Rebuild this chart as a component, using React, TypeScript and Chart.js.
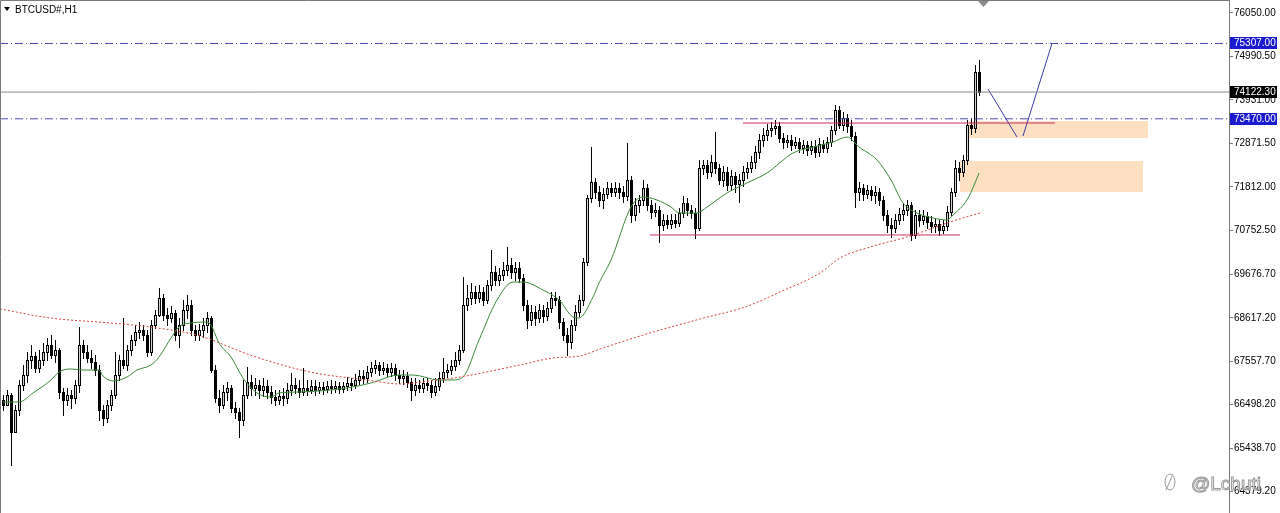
import React, { useEffect, useRef } from "react";
import { Chart, registerables } from "chart.js";
Chart.register(...registerables);

const SYMBOL = "BTCUSD#,H1";
const WATERMARK = "@Lchuti";

const priceTicks = [64379.2, 65438.7, 66498.2, 67557.7, 68617.2, 69676.7, 70752.5, 71812.0, 72871.5, 73931.0, 74990.5, 76050.0];

const opens = [66613,66491,66735,65833,66369,66979,67222,67588,67686,67393,67588,67783,67954,67710,67832,66808,66613,66735,66662,66979,67954,67783,67637,67539,67344,66369,66174,66491,66735,67222,67588,67466,67832,68076,68271,68320,68198,67783,68442,68686,69100,68686,68613,68735,68198,68442,68808,68930,68320,68198,68320,68442,68613,67344,66662,66491,66808,66906,66418,66320,66125,66735,67052,66906,66979,66857,66955,66808,66686,66613,66711,66662,66857,66979,66906,66808,66906,66857,66955,66857,66930,66882,66955,66906,66955,66882,66955,67028,66979,67101,67198,67149,67295,67393,67466,67344,67393,67295,67393,67222,67149,67198,67052,66857,66979,66906,67028,66979,66808,66955,67149,67295,67344,67442,67588,67832,68930,69100,69246,69100,69246,69052,69417,69734,69539,69661,69783,69905,69734,69832,69588,68930,68564,68759,68613,68808,68662,68857,69100,69052,68515,68198,68027,68442,68759,69052,69978,71539,71929,71685,71490,71636,71783,71685,71783,71685,71588,71978,71124,71368,71490,71783,71368,71197,71246,70880,71002,70904,71002,70929,71173,71417,71246,71173,70807,72270,72343,72173,72416,72270,71978,72173,71856,72076,71880,71978,72173,72270,72416,72660,72953,73075,73197,73246,73295,73002,72904,72953,72831,72904,72758,72831,72709,72807,72660,72855,72758,72904,73197,73685,73319,73490,73295,73051,71685,71783,71636,71734,71612,71685,71490,71124,70880,70807,71002,71148,71246,71368,70637,71124,71002,71100,70953,70856,70904,70759,70856,71197,71685,72270,72173,72465,73319,73246,74611];

const highs = [66735,66857,66784,66491,67101,67466,67783,67954,67783,67832,68003,68125,68198,68076,67881,66906,66906,66857,67101,68393,68076,67954,67832,67710,67466,66491,66613,66857,67783,67710,68613,67954,68198,68442,68515,68442,68320,68564,68808,69344,69197,68857,68906,68808,68613,69052,69173,69052,68442,68466,68613,68759,68662,67466,66857,66979,67052,66979,66564,66418,67101,67417,67222,67149,67101,67149,67101,66955,66857,66857,66906,67028,67271,67149,67101,67393,67101,67101,67101,67052,67052,67077,67101,67077,67052,67052,67173,67149,67246,67344,67344,67442,67539,67588,67539,67539,67490,67515,67490,67344,67344,67295,67149,67149,67101,67149,67149,67101,67149,67295,67637,67490,67588,67783,67954,69612,69417,69466,69393,69417,69368,69539,70271,69881,69832,69978,70344,70076,69978,69978,69685,69052,68930,68906,68954,68930,69003,69246,69246,69149,68613,68369,68564,68930,69173,70076,71612,72782,72027,71832,71783,71929,71905,71929,71905,71832,72880,72076,71539,71612,71978,71880,71490,71417,71344,71148,71124,71148,71148,71295,71588,71539,71368,71295,72465,72465,72465,72587,73148,72367,72319,72294,72222,72173,72124,72319,72416,72563,72807,73099,73246,73343,73392,73441,73392,73124,73075,73075,73026,73002,72953,72929,72929,72953,73002,72953,73026,73295,73807,73783,73636,73587,73441,73148,71929,71880,71856,71832,71832,71783,71588,71246,71051,71148,71295,71392,71490,71441,71246,71246,71246,71197,71100,71051,71002,71002,71344,71783,72465,72416,72587,73441,73490,74782,74904];

const lows = [66369,66613,65028,65833,66247,66857,67052,67393,67295,67295,67466,67588,67637,67539,66662,66247,66491,66418,66540,66808,67637,67539,67393,67222,66125,66003,66076,66369,66662,67101,67393,67344,67710,67954,68125,68076,67686,67710,68369,68662,68564,68442,68515,68076,67905,68320,68613,68198,68076,68076,68149,68271,67295,66564,66320,66418,66613,66320,66174,65711,66003,66662,66735,66735,66662,66711,66662,66540,66491,66515,66491,66540,66735,66784,66686,66735,66735,66784,66735,66784,66759,66808,66784,66808,66784,66808,66857,66857,66906,67003,67028,67052,67198,67271,67222,67246,67198,67198,67101,67028,67003,66930,66613,66735,66808,66808,66857,66686,66735,66857,67052,67173,67246,67344,67490,67783,68808,68954,68979,69003,68930,68979,69295,69417,69417,69539,69661,69588,69539,69490,68808,68369,68442,68442,68515,68515,68564,68759,68930,68369,68076,67710,67881,68320,68662,68930,69905,71441,71539,71344,71295,71539,71588,71588,71539,71441,71490,70953,71002,71197,71368,71246,71051,71100,70466,70759,70807,70807,70831,70856,71075,71124,71051,70564,70759,72124,72027,72076,72149,71880,71832,71734,71734,71685,71441,71832,72027,72173,72270,72514,72807,72953,73051,73099,72904,72758,72782,72709,72758,72660,72636,72587,72611,72538,72563,72660,72660,72807,73099,73246,73197,73148,72953,71319,71490,71490,71539,71490,71417,71368,71002,70710,70588,70710,70904,71002,71124,70515,70564,70856,70904,70807,70710,70710,70637,70686,70759,71124,71588,71978,72076,72367,73099,73148,74050];

const closes = [66491,66735,65833,66369,66979,67222,67588,67686,67393,67588,67783,67954,67710,67832,66808,66613,66735,66662,66979,67954,67783,67637,67539,67344,66369,66174,66491,66735,67222,67588,67466,67832,68076,68271,68320,68198,67783,68442,68686,69100,68686,68613,68735,68198,68442,68808,68930,68320,68198,68320,68442,68613,67344,66662,66491,66808,66906,66418,66320,66125,66735,67052,66906,66979,66857,66955,66808,66686,66613,66711,66662,66857,66979,66906,66808,66906,66857,66955,66857,66930,66882,66955,66906,66955,66882,66955,67028,66979,67101,67198,67149,67295,67393,67466,67344,67393,67295,67393,67222,67149,67198,67052,66857,66979,66906,67028,66979,66808,66955,67149,67295,67344,67442,67588,67832,68930,69100,69246,69100,69246,69052,69417,69734,69539,69661,69783,69905,69734,69832,69588,68930,68564,68759,68613,68808,68662,68857,69100,69052,68515,68198,68027,68442,68759,69052,69978,71539,71929,71685,71490,71636,71783,71685,71783,71685,71588,71978,71124,71368,71490,71783,71368,71197,71246,70880,71002,70904,71002,70929,71173,71417,71246,71173,70807,72270,72343,72173,72416,72270,71978,72173,71856,72076,71880,71978,72173,72270,72416,72660,72953,73075,73197,73246,73295,73002,72904,72953,72831,72904,72758,72831,72709,72807,72660,72855,72758,72904,73197,73685,73319,73490,73295,73051,71685,71783,71636,71734,71612,71685,71490,71124,70880,70807,71002,71148,71246,71368,70637,71124,71002,71100,70953,70856,70904,70759,70856,71197,71685,72270,72173,72465,73319,73246,74611,74122.3];

// moving averages (bar index, price)
const maFastIdx = [0, 4, 7.5, 12, 14, 17, 20, 24, 25, 27.5, 31, 33.5, 37, 39, 42, 44, 47, 51, 52, 54, 57, 60, 63.5, 67, 69, 74, 86, 92, 99, 102.5, 109, 112.5, 115, 119, 123.5, 127.5, 130, 135, 139, 142.5, 144, 147.5, 149, 152, 157, 160, 163.5, 167, 169, 173.5, 176, 181, 186, 191, 197.5, 202.5, 207.5, 211, 214, 218.5, 222, 225, 228.5, 232.5, 236, 237.5, 241, 243, 244];
const maFastVal = [66564, 66564, 66784, 67101, 67295, 67369, 67344, 67344, 67198, 67077, 67173, 67344, 67466, 67661, 68125, 68393, 68491, 68515, 68442, 68003, 67661, 67149, 66784, 66686, 66784, 66808, 66906, 67028, 67222, 67222, 67101, 67101, 67173, 68076, 69052, 69490, 69490, 69295, 69052, 68637, 68613, 69124, 69466, 70027, 71319, 71563, 71490, 71319, 71173, 71173, 71319, 71661, 71905, 72149, 72636, 72782, 72904, 73026, 72782, 72465, 71978, 71417, 71173, 71051, 71002, 71124, 71490, 71905, 72149];

const maSlowIdx = [-0.75, 11.75, 26.75, 36.75, 49.25, 61.75, 76.75, 91, 99.25, 106.75, 114.25, 129.25, 137.5, 144.25, 149.25, 161.75, 174.25, 185.5, 194.25, 204.25, 209.25, 216.75, 226, 236.75, 244.25];
const maSlowVal = [68833, 68613, 68491, 68393, 68174, 67710, 67295, 67101, 67003, 67077, 67173, 67466, 67637, 67686, 67856, 68247, 68588, 68881, 69246, 69710, 70076, 70344, 70588, 70953, 71173];

const dashLevels = [75307.0, 73470.0];
const bidPrice = 74122.3;
const redLevels = [
  { from: 185, to: 263, price: 73367 },
  { from: 161.75, to: 239.25, price: 70637 },
];
const zones = [
  { from: 241.5, to: 286.25, top: 73416, bottom: 73002 },
  { from: 239.25, to: 285, top: 72441, bottom: 71685 },
];
const arrowA = [{ x: 246.25, y: 74196 }, { x: 253.5, y: 73026 }];
const arrowB = [{ x: 255, y: 73051 }, { x: 262.25, y: 75307 }];

const X_MIN = -0.75;
const X_MAX = 306.5;
const Y_MIN = 63857;
const Y_MAX = 76367;

const FONT = "'Liberation Sans', Arial, sans-serif";

const overlayPlugin = {
  id: "overlay",
  beforeDatasetsDraw(chart: any) {
    const { ctx, chartArea: a } = chart;
    const xs = chart.scales.x;
    const ys = chart.scales.y;
    ctx.save();
    ctx.beginPath();
    ctx.rect(a.left, a.top, a.right - a.left, a.bottom - a.top);
    ctx.clip();
    ctx.fillStyle = "#fde0c1";
    zones.forEach((z) => {
      const x1 = xs.getPixelForValue(z.from);
      const x2 = xs.getPixelForValue(z.to);
      const y1 = ys.getPixelForValue(z.top);
      const y2 = ys.getPixelForValue(z.bottom);
      ctx.fillRect(x1, y1, x2 - x1, y2 - y1);
    });
    for (let i = 0; i < closes.length; i++) {
      const px = Math.round(xs.getPixelForValue(i));
      const yo = Math.round(ys.getPixelForValue(opens[i]));
      const yc = Math.round(ys.getPixelForValue(closes[i]));
      const yh = Math.round(ys.getPixelForValue(highs[i]));
      const yl = Math.round(ys.getPixelForValue(lows[i]));
      ctx.fillStyle = "#000";
      ctx.fillRect(px, yh, 1, yl - yh + 1);
      const top = Math.min(yo, yc);
      const h = Math.abs(yo - yc);
      ctx.fillRect(px - 1, top, 3, h + 1);
      if (closes[i] >= opens[i] && h >= 2) {
        ctx.fillStyle = "#d2d2d2";
        ctx.fillRect(px, top + 1, 1, h - 1);
      }
    }
    ctx.restore();
  },
  afterDraw(chart: any) {
    const { ctx, chartArea: a } = chart;
    const ys = chart.scales.y;
    ctx.save();
    // frame
    ctx.strokeStyle = "#7a7a7a";
    ctx.lineWidth = 1;
    ctx.beginPath();
    ctx.moveTo(0.5, 513);
    ctx.lineTo(0.5, 0.5);
    ctx.lineTo(a.right + 0.5, 0.5);
    ctx.stroke();
    // price labels
    const tag = (price: number, bg: string) => {
      const y = Math.round(ys.getPixelForValue(price));
      ctx.fillStyle = bg;
      ctx.fillRect(a.right + 1, y - 6, 47, 12);
      ctx.fillStyle = "#ffffff";
      ctx.font = `10px ${FONT}`;
      ctx.textBaseline = "middle";
      ctx.textAlign = "left";
      ctx.fillText(price.toFixed(2), a.right + 5, y + 0.5);
    };
    tag(dashLevels[0], "#1a1ad0");
    tag(bidPrice, "#000000");
    tag(dashLevels[1], "#1a1ad0");
    // title
    ctx.fillStyle = "#000";
    ctx.beginPath();
    ctx.moveTo(4, 7);
    ctx.lineTo(10, 7);
    ctx.lineTo(7, 11);
    ctx.closePath();
    ctx.fill();
    ctx.font = `10px ${FONT}`;
    ctx.textBaseline = "middle";
    ctx.textAlign = "left";
    ctx.fillText(SYMBOL, 15, 10);
    // shift marker
    ctx.fillStyle = "#8a8a8a";
    ctx.beginPath();
    ctx.moveTo(978, 1);
    ctx.lineTo(989, 1);
    ctx.lineTo(983.5, 7);
    ctx.closePath();
    ctx.fill();
    // watermark
    ctx.strokeStyle = "#9a9a9a";
    ctx.lineWidth = 1;
    ctx.beginPath();
    ctx.ellipse(1170, 482, 5, 8, 0, 0, Math.PI * 2);
    ctx.stroke();
    ctx.beginPath();
    ctx.moveTo(1166, 490);
    ctx.lineTo(1173, 474);
    ctx.stroke();
    ctx.font = `19px ${FONT}`;
    ctx.textBaseline = "alphabetic";
    ctx.fillStyle = "rgba(255,255,255,0.7)";
    ctx.fillText(WATERMARK, 1191, 490);
    ctx.strokeText(WATERMARK, 1191, 490);
    ctx.restore();
  },
};

export default function App() {
  const ref = useRef<HTMLCanvasElement | null>(null);
  useEffect(() => {
    if (!ref.current) return;
    const line = (data: any[], color: string, dash: number[] = [], extra: any = {}) => ({
      data,
      borderColor: color,
      borderWidth: 1,
      borderDash: dash,
      pointRadius: 0,
      fill: false,
      tension: 0,
      ...extra,
    });
    const fullSpan = (p: number) => [{ x: X_MIN, y: p }, { x: X_MAX, y: p }];
    const chart = new Chart(ref.current, {
      type: "line",
      data: {
        datasets: [
          line(maSlowIdx.map((x, i) => ({ x, y: maSlowVal[i] })), "#d9423c", [2, 2], { cubicInterpolationMode: "monotone" }),
          line(maFastIdx.map((x, i) => ({ x, y: maFastVal[i] })), "#3b8a3b", [], { cubicInterpolationMode: "monotone" }),
          line(fullSpan(dashLevels[0]), "#4a4aa8", [8, 3, 1, 3]),
          line(fullSpan(dashLevels[1]), "#4a4aa8", [8, 3, 1, 3]),
          line(fullSpan(bidPrice), "#8a8a8a"),
          ...redLevels.map((r) => line([{ x: r.from, y: r.price }, { x: r.to, y: r.price }], "#c8325c")),
          line(arrowA, "#3c3ca8"),
          line(arrowB, "#3c3ca8"),
        ] as any,
      },
      options: {
        animation: false,
        responsive: false,
        events: [],
        layout: { padding: 0 },
        plugins: { legend: { display: false }, tooltip: { enabled: false } },
        scales: {
          x: { type: "linear", min: X_MIN, max: X_MAX, display: false },
          y: {
            type: "linear",
            position: "right",
            min: Y_MIN,
            max: Y_MAX,
            afterBuildTicks: (s: any) => {
              s.ticks = priceTicks.map((v) => ({ value: v }));
            },
            afterFit: (s: any) => {
              s.width = 51;
              s.paddingTop = 0;
              s.paddingBottom = 0;
            },
            border: { display: true, color: "#7a7a7a", width: 1 },
            grid: { display: true, drawOnChartArea: false, drawTicks: true, tickLength: 4, color: "#7a7a7a" },
            ticks: {
              autoSkip: false,
              padding: 1,
              color: "#000",
              font: { family: FONT, size: 10 },
              callback: (v: any) => Number(v).toFixed(2),
            },
          },
        },
      } as any,
      plugins: [overlayPlugin],
    });
    return () => chart.destroy();
  }, []);
  return (
    <div style={{ position: "fixed", left: 0, top: 0, width: 1280, height: 513, background: "#fff" }}>
      <canvas ref={ref} width={1280} height={513} style={{ display: "block" }} />
    </div>
  );
}
